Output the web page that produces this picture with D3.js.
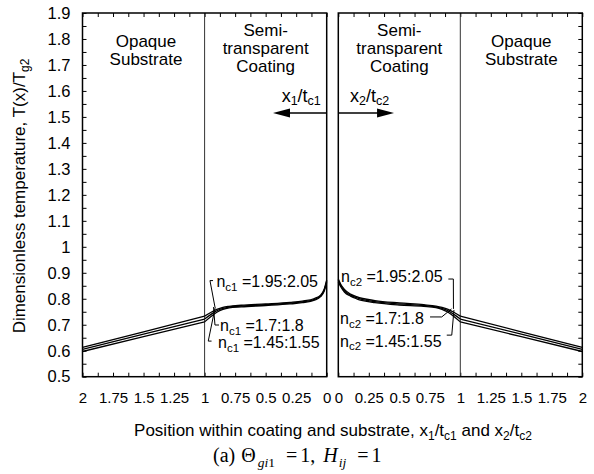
<!DOCTYPE html>
<html>
<head>
<meta charset="utf-8">
<script src="https://cdn.jsdelivr.net/npm/d3@7"></script>
<style>
body { margin: 0; background: #fff; }
svg text { font-family: "Liberation Sans", Arial, sans-serif; fill: #000; }
svg text.serif { font-family: "Liberation Serif", "Times New Roman", serif; }
</style>
</head>
<body>
<div id="chart"></div>
<script>
// refractive index ranges of the coating, one curve each
var ncRanges = ["1.95:2.05", "1.7:1.8", "1.45:1.55"];

// left side: position x1/tc1 (coating 0..1, substrate 1..2)
var x1Pos = [0, 0.02, 0.05, 0.1, 0.2, 0.3, 0.5, 0.7, 0.8, 0.85, 0.9, 0.95, 1.0, 1.5, 2.0];
var t1_195 = [0.873, 0.838, 0.814, 0.801, 0.791, 0.786, 0.780, 0.775, 0.771, 0.767, 0.759, 0.747, 0.733, 0.673, 0.613];
var t1_170 = [0.868, 0.834, 0.811, 0.798, 0.788, 0.783, 0.777, 0.772, 0.768, 0.763, 0.754, 0.739, 0.722, 0.664, 0.605];
var t1_145 = [0.863, 0.830, 0.808, 0.795, 0.785, 0.780, 0.774, 0.769, 0.765, 0.759, 0.748, 0.731, 0.711, 0.654, 0.597];

// right side: position x2/tc2
var x2Pos = [0, 0.02, 0.05, 0.1, 0.15, 0.2, 0.3, 0.5, 0.7, 0.8, 0.85, 0.9, 0.95, 1.0, 1.5, 2.0];
var t2_195 = [0.876, 0.856, 0.836, 0.818, 0.808, 0.801, 0.793, 0.784, 0.777, 0.772, 0.767, 0.759, 0.747, 0.733, 0.673, 0.613];
var t2_170 = [0.871, 0.851, 0.831, 0.814, 0.804, 0.797, 0.789, 0.780, 0.774, 0.769, 0.763, 0.754, 0.739, 0.722, 0.664, 0.605];
var t2_145 = [0.866, 0.846, 0.826, 0.810, 0.800, 0.793, 0.785, 0.776, 0.771, 0.766, 0.759, 0.748, 0.731, 0.711, 0.654, 0.597];

// tick labels
var xTickLabels = ["0", "0.25", "0.5", "0.75", "1", "1.25", "1.5", "1.75", "2"];
var yTickLabels = ["0.5", "0.6", "0.7", "0.8", "0.9", "1", "1.1", "1.2", "1.3", "1.4", "1.5", "1.6", "1.7", "1.8", "1.9"];

var width = 594, height = 474;
var svg = d3.select("#chart").append("svg")
    .attr("width", width)
    .attr("height", height);

var yScale = d3.scaleLinear().domain([0.5, 1.9]).range([376.7, 13]);
var xL = d3.scaleLinear().domain([2, 0]).range([82.5, 326.7]);
var xR = d3.scaleLinear().domain([0, 2]).range([338.3, 582.3]);

var xTickVals = d3.range(0, 2.0001, 0.125);
var yTickVals = d3.range(0.5, 1.9001, 0.05);

function xFmt(d) {
    var k = Math.round(d * 8);
    return k % 2 === 0 ? xTickLabels[k / 2] : "";
}
function yFmt(d) {
    var k = Math.round(d * 20);
    return k % 2 === 0 ? yTickLabels[(k - 10) / 2] : "";
}

/**
 * draws one panel: frame, ticks, divider, curves
 */
function drawPanel(xs, series, xPos, side) {
    var g = svg.append("g");
    var x0 = d3.min(xs.range()), x1 = d3.max(xs.range());

    //bottom axis with labels
    g.append("g")
        .attr("transform", "translate(0," + yScale(0.5) + ")")
        .call(d3.axisBottom(xs).tickValues(xTickVals).tickSizeInner(-4).tickSizeOuter(0)
            .tickPadding(16).tickFormat(xFmt))
        .call(a => a.select(".domain").remove())
        .attr("font-size", 15).attr("font-family", null);

    //top axis, ticks only
    g.append("g")
        .attr("transform", "translate(0," + yScale(1.9) + ")")
        .call(d3.axisTop(xs).tickValues(xTickVals).tickSizeInner(-4).tickSizeOuter(0).tickFormat(""))
        .call(a => a.select(".domain").remove());

    if (side == "left") {
        g.append("g")
            .attr("transform", "translate(" + x0 + ",0)")
            .call(d3.axisLeft(yScale).tickValues(yTickVals).tickSizeInner(-4).tickSizeOuter(0)
                .tickPadding(12).tickFormat(yFmt))
            .call(a => a.select(".domain").remove())
            .attr("font-size", 16.5).attr("font-family", null);
    } else {
        g.append("g")
            .attr("transform", "translate(" + x1 + ",0)")
            .call(d3.axisRight(yScale).tickValues(yTickVals).tickSizeInner(-4).tickSizeOuter(0).tickFormat(""))
            .call(a => a.select(".domain").remove());
    }

    //coating / substrate boundary
    g.append("line")
        .attr("x1", xs(1)).attr("x2", xs(1))
        .attr("y1", yScale(1.9)).attr("y2", yScale(0.5))
        .attr("stroke", "#333").attr("stroke-width", 1);

    //frame
    g.append("rect")
        .attr("x", x0).attr("y", yScale(1.9))
        .attr("width", x1 - x0).attr("height", yScale(0.5) - yScale(1.9))
        .attr("fill", "none").attr("stroke", "#000").attr("stroke-width", 1.5);

    var coatLine = d3.line().x(d => xs(d.x)).y(d => yScale(d.v)).curve(d3.curveMonotoneX);
    var subLine = d3.line().x(d => xs(d.x)).y(d => yScale(d.v));

    series.forEach(function(vals) {
        var pts = xPos.map((x, i) => ({x: x, v: vals[i]}));
        pts.sort((a, b) => xs(a.x) - xs(b.x));
        g.append("path")
            .attr("d", coatLine(pts.filter(p => p.x <= 1)))
            .attr("fill", "none").attr("stroke", "#000").attr("stroke-width", 1.3);
        g.append("path")
            .attr("d", subLine(pts.filter(p => p.x >= 1)))
            .attr("fill", "none").attr("stroke", "#000").attr("stroke-width", 1.3);
    });
    return g;
}

var gL = drawPanel(xL, [t1_195, t1_170, t1_145], x1Pos, "left");
var gR = drawPanel(xR, [t2_195, t2_170, t2_145], x2Pos, "right");

//region labels
function regionLabel(g, x, lines, y0) {
    var t = g.append("text").attr("text-anchor", "middle").attr("font-size", 17);
    lines.forEach(function(s, i) {
        t.append("tspan").attr("x", x).attr("y", yScale(y0) + i * 18).text(s);
    });
}
regionLabel(gL, xL(1.48), ["Opaque", "Substrate"], 1.77);
regionLabel(gL, xL(0.5), ["Semi-", "transparent", "Coating"], 1.81);
regionLabel(gR, xR(0.5), ["Semi-", "transparent", "Coating"], 1.81);
regionLabel(gR, xR(1.5), ["Opaque", "Substrate"], 1.77);

//direction arrows
function arrow(g, xs, xEnd, y) {
    var xa = xs(0), xb = xs(xEnd), yy = yScale(y);
    var dir = xb > xa ? 1 : -1;
    g.append("line")
        .attr("x1", xa).attr("x2", xb - dir * 14)
        .attr("y1", yy).attr("y2", yy)
        .attr("stroke", "#000").attr("stroke-width", 1.3);
    g.append("path")
        .attr("d", "M" + xb + "," + yy + "L" + (xb - dir * 17) + "," + (yy - 4.5) +
            "L" + (xb - dir * 17) + "," + (yy + 4.5) + "Z")
        .attr("fill", "#000");
}
arrow(gL, xL, 0.44, 1.515);
arrow(gR, xR, 0.457, 1.515);

// text with subscripts: parts = [[text, isSub], ...]
function subText(g, x, y, parts, size, subSize, anchor) {
    var t = g.append("text").attr("x", x).attr("y", y)
        .attr("font-size", size).attr("text-anchor", anchor || "start");
    var down = false;
    parts.forEach(function(p) {
        var s = t.append("tspan").text(p[0]);
        if (p[1] && !down) { s.attr("dy", 3.5).attr("font-size", subSize); down = true; }
        else if (p[1]) { s.attr("font-size", subSize); }
        else if (down) { s.attr("dy", -3.5); down = false; }
    });
    return t;
}
subText(gL, xL(0.369), yScale(1.558), [["x"], ["1", 1], ["/t"], ["c1", 1]], 18, 12.5);
subText(gR, xR(0.096), yScale(1.558), [["x"], ["2", 1], ["/t"], ["c2", 1]], 18, 12.5);

//refractive index labels and leader lines
var lab1Pos = [[0.903, 0.845], [0.874, 0.675], [0.890, 0.610]];
var lab2Pos = [[0.022, 0.8645], [0.014, 0.701], [0.014, 0.616]];
var leaders1 = [
    [[0.931, 0.870], [0.956, 0.870], [0.915, 0.768]],
    [[0.927, 0.768], [0.915, 0.699], [0.882, 0.699]],
    [[0.913, 0.768], [0.970, 0.637], [0.943, 0.637]]
];
var leaders2 = [
    [[0.902, 0.876], [0.943, 0.876], [0.944, 0.761]],
    [[0.752, 0.730], [0.848, 0.730], [0.928, 0.761]],
    [[0.889, 0.660], [0.930, 0.660], [0.948, 0.757]]
];

function ncLabels(g, xs, pos, leaders, sub) {
    var ln = d3.line().x(d => xs(d[0])).y(d => yScale(d[1]));
    ncRanges.forEach(function(r, i) {
        subText(g, xs(pos[i][0]), yScale(pos[i][1]), [["n"], [sub, 1], [" =" + r]], 16, 11.5);
        g.append("path").attr("d", ln(leaders[i]))
            .attr("fill", "none").attr("stroke", "#000").attr("stroke-width", 1);
    });
}
ncLabels(gL, xL, lab1Pos, leaders1, "c1");
ncLabels(gR, xR, lab2Pos, leaders2, "c2");

//axis titles
var yt = svg.append("text")
    .attr("transform", "translate(25,196) rotate(-90)")
    .attr("text-anchor", "middle").attr("font-size", 17);
yt.append("tspan").text("Dimensionless temperature, T(x)/T");
yt.append("tspan").attr("dy", 4).attr("font-size", 12).text("g2");

subText(svg, 333, 436, [["Position within coating and substrate, x"], ["1", 1], ["/t"], ["c1", 1],
    [" and x"], ["2", 1], ["/t"], ["c2", 1]], 17, 12, "middle");

//caption (equation style)
var cap = svg.append("text").attr("class", "serif").attr("x", 213).attr("y", 462)
    .attr("font-size", 20);
cap.append("tspan").text("(a)");
cap.append("tspan").attr("dx", 6).text("\u0398");
cap.append("tspan").attr("dy", 5).attr("dx", 2).attr("font-size", 13.5).attr("font-style", "italic").text("gi");
cap.append("tspan").attr("font-size", 13.5).text("1");
cap.append("tspan").attr("dy", -5).attr("dx", 11).text("=");
cap.append("tspan").attr("dx", 3).text("1,");
cap.append("tspan").attr("dx", 8).attr("font-style", "italic").text("H");
cap.append("tspan").attr("dy", 5).attr("dx", 1).attr("font-size", 13.5).attr("font-style", "italic").text("ij");
cap.append("tspan").attr("dy", -5).attr("dx", 11).text("=");
cap.append("tspan").attr("dx", 3).text("1");
</script>
</body>
</html>
